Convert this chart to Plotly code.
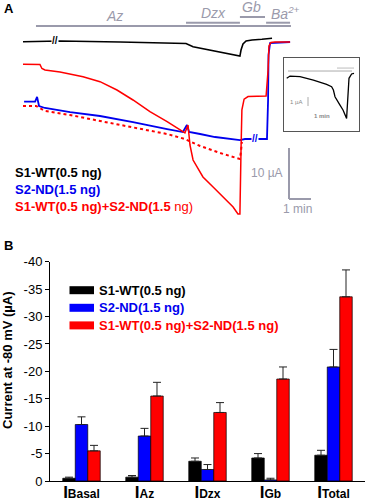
import plotly.graph_objects as go

FONT = "Arial, Liberation Sans, sans-serif"
GRAY = "#9a9aab"

# ---------------- Panel A: current traces (time in min, current in µA) ----------------
wt_t = [0, 0.64, 0.73, 1.68, 4.41, 7.41, 7.73, 8.73, 9.86, 9.91, 10.0, 10.14, 10.41, 10.86, 11.32]
wt_i = [0.06, 0.1, 0.25, 0.2, 0.0, -0.29, -0.92, -1.76, -2.75, -1.57, -0.39, 0.2, 0.39, 0.53, 0.73]

nd_t = [0.05, 0.55, 0.64, 0.73, 1.0, 2.14, 3.5, 5.0, 6.55, 7.27, 7.45, 7.55, 8.05, 8.73, 9.86,
        10.09, 11.09, 11.14, 11.16, 11.23, 12.14]
nd_i = [-11.71, -11.67, -10.78, -12.55, -12.94, -13.73, -14.51, -15.69, -17.06, -17.65, -16.27,
        -17.65, -18.04, -18.63, -19.22, -19.02, -19.02, -11.37, -2.55, -0.2, 0]

sum_t = [0, 0.59, 1.0, 2.14, 3.5, 5.0, 6.55, 7.36, 8.05, 8.95, 9.86, 9.91, 9.95]
sum_i = [-12.55, -12.55, -13.53, -14.31, -15.49, -16.67, -18.04, -19.02, -20.39, -21.76, -22.94,
         -21.37, -19.61]

co_t = [0, 0.77, 0.86, 1.0, 1.68, 2.73, 3.5, 4.27, 5.0, 5.77, 6.55, 7.36, 7.5, 7.59, 7.73, 8.18,
        8.64, 9.09, 9.55, 9.77, 9.86, 9.91, 9.95, 10.05, 10.23, 11.05, 11.14, 11.18, 11.27, 11.45, 12.14]
co_i = [-4.37, -4.41, -5.2, -5.49, -5.88, -6.8, -7.78, -9.41, -11.37, -13.67, -15.63, -17.84,
        -16.27, -20.2, -23.14, -26.47, -28.43, -30.39, -32.35, -33.73, -33.73, -21.2, -13.3, -11.2,
        -10.7, -10.6, -5.5, -0.8, -0.1, 0, 0]

# drug applications (min)
drug_names = ["Az", "Dzx", "Gb", "Ba<sup>2+</sup>"]
drug_start = [0.59, 7.41, 9.86, 11.05]
drug_end = [12.18, 9.86, 11.0, 12.14]

# inset trace (min, µA)
ins_t = [0.135, 0.3, 0.8, 1.47, 2.13, 2.38, 2.47, 2.55, 2.8, 2.95, 3.13, 3.22, 3.25, 3.38, 3.5]
ins_i = [-0.81, -0.56, -0.63, -1.0, -1.48, -1.74, -2.11, -2.86, -3.78, -4.33, -5.26, -1.74,
         -0.81, -0.33, -0.26]

# ---------------- Panel B: bar data (µA) ----------------
categories = ["Basal", "Az", "Dzx", "Gb", "Total"]
tick_labels = ["<b>I<span style='font-size:12px'>Basal</span></b>",
               "<b>I<span style='font-size:12px'>Az</span></b>",
               "<b>I<span style='font-size:12px'>Dzx</span></b>",
               "<b>I<span style='font-size:12px'>Gb</span></b>",
               "<b>I<span style='font-size:12px'>Total</span></b>"]
wt_mean = [-0.5, -0.7, -3.6, -4.2, -4.7]
wt_err = [0.2, 0.3, 0.6, 0.8, 0.9]
nd_mean = [-10.3, -8.2, -2.1, -0.2, -20.8]
nd_err = [1.4, 1.4, 0.9, 0.3, 3.2]
co_mean = [-5.5, -15.5, -12.5, -18.6, -33.6]
co_err = [1.0, 2.5, 1.8, 2.2, 4.9]
y_ticks = [0, -5, -10, -15, -20, -25, -30, -35, -40]
y_tick_text = ["0", "-5", "-10", "-15", "-20", "-25", "-30", "-35", "-40"]

series_names = ["S1-WT(0.5 ng)", "S2-ND(1.5 ng)", "S1-WT(0.5 ng)+S2-ND(1.5 ng)"]
colors = ["#000000", "#0000ff", "#ff0000"]

fig = go.Figure()

# traces panel A
fig.add_trace(go.Scatter(x=wt_t, y=wt_i, mode="lines", line=dict(color="black", width=1.6),
                         xaxis="x", yaxis="y", hoverinfo="skip"))
fig.add_trace(go.Scatter(x=sum_t, y=sum_i, mode="lines", line=dict(color="#ff0000", width=2, dash="dot"),
                         xaxis="x", yaxis="y", hoverinfo="skip"))
fig.add_trace(go.Scatter(x=nd_t, y=nd_i, mode="lines", line=dict(color="#0000ee", width=1.8),
                         xaxis="x", yaxis="y", hoverinfo="skip"))
fig.add_trace(go.Scatter(x=co_t, y=co_i, mode="lines", line=dict(color="#ff0000", width=1.5),
                         xaxis="x", yaxis="y", hoverinfo="skip"))
# inset
fig.add_trace(go.Scatter(x=ins_t, y=ins_i, mode="lines", line=dict(color="black", width=1.3),
                         xaxis="x3", yaxis="y3", hoverinfo="skip"))

# bars panel B
for name, m, e, c in zip(series_names, [wt_mean, nd_mean, co_mean], [wt_err, nd_err, co_err], colors):
    fig.add_trace(go.Bar(
        x=categories, y=m, name=name, xaxis="x2", yaxis="y2",
        marker=dict(color=c, line=dict(color="black", width=0.7)),
        error_y=dict(type="data", symmetric=False, array=[0] * len(m), arrayminus=e,
                     color="#222222", thickness=1, width=4),
        hoverinfo="skip"))

shapes = []
# drug application bars
drug_levels = [3.14, 3.78, 4.9, 3.78]
for s, e, lv in zip(drug_start, drug_end, drug_levels):
    shapes.append(dict(type="line", xref="x", yref="y", x0=s, x1=e, y0=lv, y1=lv,
                       line=dict(color=GRAY, width=2)))
# scale bar (1 min, 10 µA)
sb_t, sb_i = 12.09, -20.78
shapes.append(dict(type="line", xref="x", yref="y", x0=sb_t, x1=sb_t, y0=sb_i, y1=sb_i - 10,
                   line=dict(color=GRAY, width=2)))
shapes.append(dict(type="line", xref="x", yref="y", x0=sb_t, x1=sb_t + 1, y0=sb_i - 10, y1=sb_i - 10,
                   line=dict(color=GRAY, width=2)))
# inset decorations
shapes.append(dict(type="line", xref="x3", yref="y3", x0=0.2, x1=3.4, y0=0, y1=0,
                   line=dict(color="#aaaaaa", width=1)))
shapes.append(dict(type="line", xref="x3", yref="y3", x0=2.65, x1=3.5, y0=0.33, y1=0.33,
                   line=dict(color="#aaaaaa", width=0.8)))
shapes.append(dict(type="line", xref="x3", yref="y3", x0=1.2, x1=1.2, y0=-2.89, y1=-3.89,
                   line=dict(color="#aaaaaa", width=1)))

W, H = 367, 500


def px(xp):
    return xp / W


def py(yp):
    return 1 - yp / H


# legend B swatches
leg_y = [290.2, 307.8, 325.4]
for c, yy in zip(colors, leg_y):
    shapes.append(dict(type="rect", xref="paper", yref="paper", x0=px(69.5), x1=px(94),
                       y0=py(yy + 4), y1=py(yy - 4), fillcolor=c, line=dict(width=0)))

ann = []
# panel letters
ann.append(dict(text="<b>A</b>", x=px(2), y=py(8), xref="paper", yref="paper", xanchor="left",
                yanchor="middle", showarrow=False, font=dict(family=FONT, size=13, color="black")))
ann.append(dict(text="<b>B</b>", x=px(2), y=py(245), xref="paper", yref="paper", xanchor="left",
                yanchor="middle", showarrow=False, font=dict(family=FONT, size=13, color="black")))
# drug labels
drug_label_pos = [(4.18, 5.1), (8.68, 5.75), (10.39, 6.8), (11.95, 5.7)]
for nm, (tx, ty) in zip(drug_names, drug_label_pos):
    ann.append(dict(text="<i>" + nm + "</i>", x=tx, y=ty, xref="x", yref="y", showarrow=False,
                    xanchor="center", yanchor="middle", font=dict(family=FONT, size=14, color=GRAY)))
# break marks
ann.append(dict(text="<b>//</b>", x=1.455, y=0.2, xref="x", yref="y", showarrow=False,
                bgcolor="white", borderpad=0, font=dict(family=FONT, size=10, color="black")))
ann.append(dict(text="<b>//</b>", x=10.55, y=-19.0, xref="x", yref="y", showarrow=False,
                bgcolor="white", borderpad=0, font=dict(family=FONT, size=10, color="#0000ee")))
# scale labels
ann.append(dict(text="10 µA", x=sb_t - 0.2, y=sb_i - 5, xref="x", yref="y", showarrow=False,
                xanchor="right", yanchor="middle", font=dict(family=FONT, size=12, color=GRAY)))
ann.append(dict(text="1 min", x=sb_t + 0.4, y=sb_i - 12, xref="x", yref="y", showarrow=False,
                xanchor="center", yanchor="middle", font=dict(family=FONT, size=12, color=GRAY)))
ann.append(dict(text="1 µA", x=1.0, y=-3.4, xref="x3", yref="y3", showarrow=False,
                xanchor="right", yanchor="middle", font=dict(family=FONT, size=6, color="#888888")))
ann.append(dict(text="<b>1 min</b>", x=1.9, y=-5.0, xref="x3", yref="y3", showarrow=False,
                xanchor="center", yanchor="middle", font=dict(family=FONT, size=6, color="#888888")))
# legend A
legA_text = ["<b>S1-WT(0.5 ng)</b>", "<b>S2-ND(1.5 ng)</b>", "<b>S1-WT(0.5 ng)+S2-ND(1.5</b> ng)"]
legA_y = [172, 189, 206.5]
for t, c, yy in zip(legA_text, ["black", "#0000ee", "#ff0000"], legA_y):
    ann.append(dict(text=t, x=px(13), y=py(yy), xref="paper", yref="paper", xanchor="left",
                    yanchor="middle", showarrow=False, font=dict(family=FONT, size=13, color=c)))
# legend B
for t, c, yy in zip(series_names, ["black", "#0000ee", "#ff0000"], leg_y):
    ann.append(dict(text="<b>" + t + "</b>", x=px(97), y=py(yy), xref="paper", yref="paper",
                    xanchor="left", yanchor="middle", showarrow=False,
                    font=dict(family=FONT, size=13, color=c)))
# y-axis title B
ann.append(dict(text="<b>Current at -80 mV (µA)</b>", x=px(7.5), y=py(360.5), xref="paper",
                yref="paper", textangle=-90, showarrow=False, xanchor="center", yanchor="middle",
                font=dict(family=FONT, size=13, color="black")))

fig.update_layout(
    width=W, height=H, margin=dict(l=0, r=0, t=0, b=0, autoexpand=False),
    paper_bgcolor="white", plot_bgcolor="white", showlegend=False,
    barmode="group", bargap=0.405, bargroupgap=0,
    font=dict(family=FONT, color="black"),
    xaxis=dict(domain=[0, 1], range=[-23 / 22, (W - 23) / 22], visible=False, fixedrange=True,
               automargin=False),
    yaxis=dict(domain=[0.54, 1], range=[(42 - 230) / 5.1, 42 / 5.1], visible=False, fixedrange=True,
               automargin=False),
    xaxis2=dict(domain=[px(50), px(365)], anchor="y2", type="category", range=[-0.5, 4.5],
                showline=True, linecolor="black", linewidth=1, ticks="", showgrid=False,
                tickvals=categories, ticktext=tick_labels, automargin=False,
                ticklabelstandoff=-4,
                tickfont=dict(family=FONT, size=17, color="black")),
    yaxis2=dict(domain=[19 / H, (H - 261.7) / H], anchor="x2", range=[0, -40],
                tickvals=y_ticks, ticktext=y_tick_text, ticks="outside", ticklen=4,
                tickcolor="black", showline=True, linecolor="black", linewidth=1,
                showgrid=False, zeroline=False, automargin=False,
                tickfont=dict(family=FONT, size=13, color="black")),
    xaxis3=dict(domain=[px(284), px(359)], anchor="y3", range=[0, 3.75], showline=True,
                mirror=True, linecolor="#555555", linewidth=1, showticklabels=False, ticks="",
                showgrid=False, zeroline=False, automargin=False),
    yaxis3=dict(domain=[py(130.7), py(57.7)], anchor="x3", range=[-6.63, 1.48], showline=True,
                mirror=True, linecolor="#555555", linewidth=1, showticklabels=False, ticks="",
                showgrid=False, zeroline=False, automargin=False),
    shapes=shapes, annotations=ann,
)

fig.write_html("out.html", config={"displayModeBar": False, "staticPlot": True},
               post_script="document.body.style.margin='0';")
